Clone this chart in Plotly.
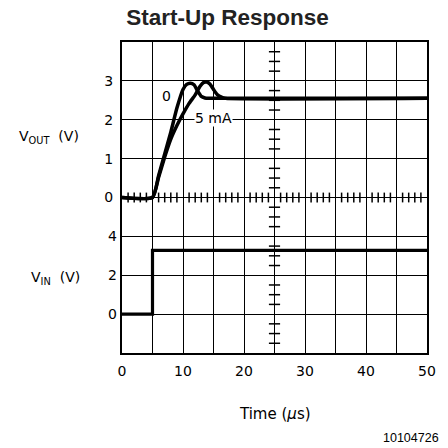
import numpy as np
import plotly.graph_objects as go

# ---- data ----
t_out_0mA = [0, 5, 6, 7, 8, 9, 10, 10.6, 11.2, 11.8, 12.4, 13.0, 13.6, 14.2, 50]
v_out_0mA = [0, 0, 0.56, 1.12, 1.68, 2.3, 2.78, 2.91, 2.94, 2.9, 2.74, 2.6, 2.56, 2.55, 2.55]

t_out_5mA = [0, 5, 6, 7, 8, 9, 10, 11, 12, 12.8, 13.4, 13.9, 14.4, 15.0, 15.6, 16.3, 17.0, 50]
v_out_5mA = [0, 0, 0.52, 1.04, 1.5, 1.85, 2.15, 2.42, 2.64, 2.86, 2.96, 2.97, 2.92, 2.78, 2.65, 2.58, 2.55, 2.55]

t_in = [0, 5, 5, 50]
v_in = [0, 0, 3.28, 3.28]

x_tick_vals = [0, 10, 20, 30, 40, 50]
x_tick_labels = ['0', '10', '20', '30', '40', '50']
vout_tick_vals = [0, 1, 2, 3]
vout_tick_labels = ['0', '1', '2', '3']
vin_tick_vals = [0, 2, 4]
vin_tick_labels = ['0', '2', '4']

FONT = "DejaVu Sans"
TFONT = "Liberation Sans"

# figure is offset by the page's 8px body margin; plot area in figure pixels
W, H = 440, 440
L, R, T, B = 114, 15, 34, 95
PW, PH = W - L - R, H - T - B


def px(xf):
    return (xf - L) / PW


def py(yf):
    return (H - B - yf) / PH


fig = go.Figure()

# center graticule minor ticks (decoration)
hx = [x for x in np.arange(0, 50.01, 1.0) if x % 5 != 0]
fig.add_trace(go.Scatter(x=hx, y=[0] * len(hx), mode='markers', yaxis='y',
                         marker=dict(symbol='line-ns', size=7, line=dict(width=1.5, color='black')),
                         hoverinfo='skip', showlegend=False))
vy = [y for y in np.arange(-4, 4.01, 0.25) if y % 1 != 0]
fig.add_trace(go.Scatter(x=[25] * len(vy), y=vy, mode='markers', yaxis='y',
                         marker=dict(symbol='line-ew', size=8, line=dict(width=1.5, color='black')),
                         hoverinfo='skip', showlegend=False))

fig.add_trace(go.Scatter(x=t_out_5mA, y=v_out_5mA, mode='lines', yaxis='y',
                         line=dict(color='black', width=3.5, shape='spline', smoothing=0.5),
                         showlegend=False))
fig.add_trace(go.Scatter(x=t_out_0mA, y=v_out_0mA, mode='lines', yaxis='y',
                         line=dict(color='black', width=3.5, shape='spline', smoothing=0.5),
                         showlegend=False))
fig.add_trace(go.Scatter(x=t_in, y=v_in, mode='lines', yaxis='y2',
                         line=dict(color='black', width=3.2),
                         showlegend=False))

grid = dict(showgrid=True, gridcolor='black', gridwidth=1.4)

fig.update_layout(
    width=W, height=H,
    margin=dict(l=L, r=R, t=T, b=B),
    paper_bgcolor='white', plot_bgcolor='white',
    font=dict(family=FONT, size=14, color='black'),
    title=dict(text='<b>Start-Up Response</b>', x=219.5 / W, xanchor='center', xref='container',
               y=1 - 9.5 / H, yanchor='middle', yref='container',
               font=dict(family=TFONT, size=22.5, color='#222222')),
    xaxis=dict(range=[0, 50], tickmode='array', tickvals=x_tick_vals, ticktext=x_tick_labels,
               **grid, minor=dict(dtick=5, tick0=0, ticks='', **grid), zeroline=False,
               showline=True, linecolor='black', linewidth=2, mirror=True, ticks='',
               ticklabelstandoff=4),
    yaxis=dict(range=[-4, 4], tickmode='array', tickvals=vout_tick_vals, ticktext=vout_tick_labels,
               **grid, minor=dict(tickmode='array', tickvals=[-3, -2, -1], ticks='', **grid),
               zeroline=False,
               showline=True, linecolor='black', linewidth=2, mirror=True, ticks='',
               ticklabelstandoff=4),
    yaxis2=dict(range=[-2, 14], overlaying='y', side='left', anchor='x', tickmode='array',
                tickvals=vin_tick_vals, ticktext=vin_tick_labels, showgrid=False, zeroline=False,
                showline=False, ticks='', ticklabelstandoff=4),
    annotations=[
        dict(text='V<sub>OUT</sub>  (V)', xref='paper', yref='paper', x=px(7), y=py(129),
             xanchor='left', yanchor='middle', showarrow=False, font=dict(size=14)),
        dict(text='V<sub>IN</sub>  (V)', xref='paper', yref='paper', x=px(19), y=py(270),
             xanchor='left', yanchor='middle', showarrow=False, font=dict(size=14)),
        dict(text='Time (<i>µ</i>s)', xref='paper', yref='paper', x=px(270), y=py(406),
             xanchor='center', yanchor='middle', showarrow=False, font=dict(size=15)),
        dict(text='10104726', xref='paper', yref='paper', x=px(439), y=py(430),
             xanchor='right', yanchor='middle', showarrow=False,
             font=dict(family=TFONT, size=12.5)),
        dict(text='0', x=7.25, y=2.6, xref='x', yref='y', showarrow=False, font=dict(size=14)),
        dict(text='5 mA', x=15.0, y=2.04, xref='x', yref='y', showarrow=False,
             font=dict(size=14), bgcolor='white', borderpad=0),
    ],
)

fig.write_html("out.html")
